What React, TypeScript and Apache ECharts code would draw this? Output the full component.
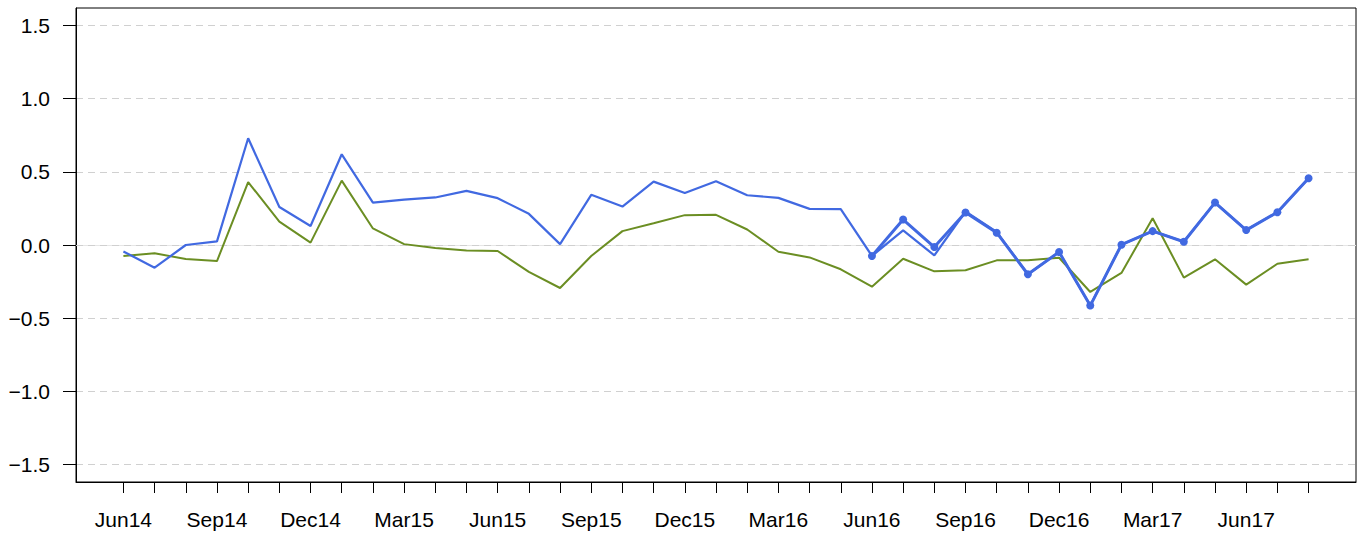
import React, { useEffect, useRef } from "react";
import * as echarts from "echarts";

const months: string[] = [
  "Jun14", "Jul14", "Aug14", "Sep14", "Oct14", "Nov14", "Dec14", "Jan15", "Feb15", "Mar15",
  "Apr15", "May15", "Jun15", "Jul15", "Aug15", "Sep15", "Oct15", "Nov15", "Dec15", "Jan16",
  "Feb16", "Mar16", "Apr16", "May16", "Jun16", "Jul16", "Aug16", "Sep16", "Oct16", "Nov16",
  "Dec16", "Jan17", "Feb17", "Mar17", "Apr17", "May17", "Jun17", "Jul17", "Aug17",
];

const labelMonths: string[] = [
  "Jun14", "Sep14", "Dec14", "Mar15", "Jun15", "Sep15", "Dec15",
  "Mar16", "Jun16", "Sep16", "Dec16", "Mar17", "Jun17",
];

const yTicks: number[] = [-1.5, -1.0, -0.5, 0.0, 0.5, 1.0, 1.5];

const blueSeries: number[] = [
  -0.044, -0.155, 0.0, 0.025, 0.73, 0.26, 0.13, 0.62, 0.29, 0.31, 0.325, 0.37, 0.32,
  0.213, 0.006, 0.343, 0.263, 0.433, 0.356, 0.436, 0.34, 0.322, 0.247, 0.245,
  -0.075, 0.1, -0.071, 0.229, 0.09, -0.2, -0.048, -0.414, 0.002, 0.095, 0.022, 0.29, 0.102, 0.224, 0.456,
];

const greenSeries: number[] = [
  -0.075, -0.057, -0.096, -0.11, 0.43, 0.16, 0.016, 0.44, 0.113, 0.006, -0.02, -0.037, -0.041,
  -0.184, -0.294, -0.075, 0.095, 0.149, 0.204, 0.206, 0.106, -0.046, -0.085, -0.166,
  -0.285, -0.094, -0.18, -0.173, -0.105, -0.105, -0.087, -0.321, -0.191, 0.183, -0.223, -0.098, -0.271, -0.128, -0.098,
];

const recentStart = "Jun16";
const recentSeries: number[] = [
  -0.075, 0.174, -0.014, 0.222, 0.084, -0.2, -0.048, -0.414, 0.002, 0.095, 0.022, 0.29, 0.102, 0.224, 0.456,
];

const BLUE = "#4169E1";
const GREEN = "#6B8E23";
const FONT = "'Liberation Sans', Arial, Helvetica, sans-serif";

export default function App() {
  const ref = useRef<HTMLDivElement>(null);

  useEffect(() => {
    document.body.style.margin = "0";
    if (!ref.current) return;
    const chart = echarts.init(ref.current, null, { renderer: "svg" });
    const n = months.length;
    const pad = (n - 1) * 0.04;
    const startIdx = months.indexOf(recentStart);

    const option: any = {
      animation: false,
      backgroundColor: "#ffffff",
      grid: {
        left: 76,
        right: 8,
        top: 8,
        bottom: 53,
        show: true,
        borderColor: "#000",
        borderWidth: 1,
        backgroundColor: "transparent",
      },
      xAxis: {
        type: "value",
        min: -pad,
        max: n - 1 + pad,
        axisLine: { show: true, onZero: false, lineStyle: { color: "#000", width: 1 } },
        axisTick: {
          show: true,
          length: 11,
          lineStyle: { color: "#000", width: 1 },
          customValues: months.map((_, i) => i),
        },
        axisLabel: {
          show: true,
          customValues: labelMonths.map((m) => months.indexOf(m)),
          formatter: (v: number) => months[Math.round(v)] ?? "",
          color: "#000",
          fontSize: 21,
          fontFamily: FONT,
          margin: 27,
        },
        splitLine: { show: false },
      },
      yAxis: {
        type: "value",
        min: -1.62,
        max: 1.62,
        axisLine: { show: true, onZero: false, lineStyle: { color: "#000", width: 1 } },
        axisTick: {
          show: true,
          length: 13,
          lineStyle: { color: "#000", width: 1 },
          customValues: yTicks,
        },
        axisLabel: {
          show: true,
          customValues: yTicks,
          formatter: (v: number) => (v < 0 ? "\u2212" + Math.abs(v).toFixed(1) : v.toFixed(1)),
          color: "#000",
          fontSize: 21,
          fontFamily: FONT,
          margin: 26,
        },
        splitLine: {
          show: true,
          lineStyle: { color: "#d0d0d0", type: [7, 5], width: 1 },
        },
      },
      series: [
        {
          type: "line",
          data: greenSeries.map((v, i) => [i, v]),
          showSymbol: false,
          symbol: "none",
          lineStyle: { color: GREEN, width: 2 },
          itemStyle: { color: GREEN },
          z: 2,
          markLine: {
            silent: true,
            symbol: "none",
            label: { show: false },
            z: 1,
            data: [
              { yAxis: 0, lineStyle: { type: "solid", color: "#e6e6e6", width: 1 } },
              { yAxis: 0, lineStyle: { type: [7, 5], color: "#d0d0d0", width: 1 } },
            ],
          },
        },
        {
          type: "line",
          data: blueSeries.map((v, i) => [i, v]),
          showSymbol: false,
          symbol: "none",
          lineStyle: { color: BLUE, width: 2.2 },
          itemStyle: { color: BLUE },
          z: 3,
        },
        {
          type: "line",
          data: recentSeries.map((v, k) => [startIdx + k, v]),
          symbol: "circle",
          symbolSize: 8,
          showSymbol: true,
          lineStyle: { color: BLUE, width: 3 },
          itemStyle: { color: BLUE },
          z: 4,
        },
      ],
    };
    chart.setOption(option);
    return () => chart.dispose();
  }, []);

  return (
    <div
      ref={ref}
      style={{ position: "fixed", left: 0, top: 0, width: 1364, height: 535 }}
    />
  );
}
